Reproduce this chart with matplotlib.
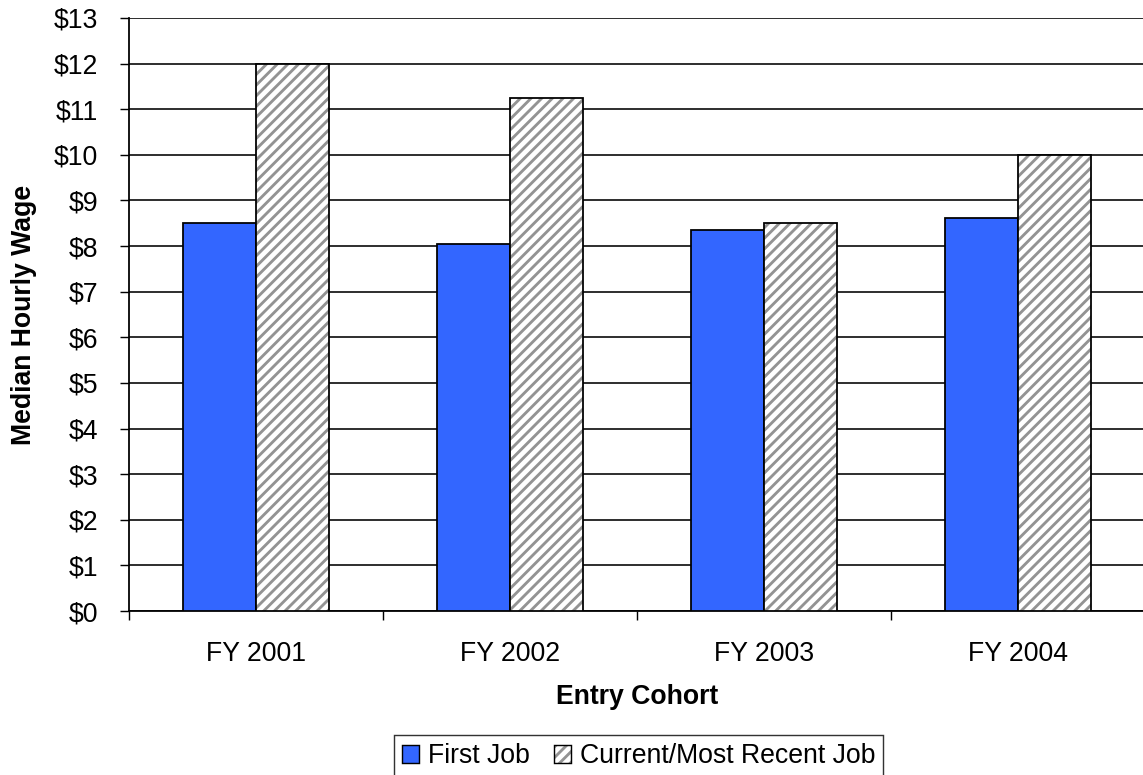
import matplotlib
matplotlib.use("Agg")
import matplotlib.pyplot as plt
from matplotlib.patches import Patch
from matplotlib.legend_handler import HandlerTuple
import numpy as np

cohorts = ["FY 2001", "FY 2002", "FY 2003", "FY 2004"]
first_job = [8.50, 8.05, 8.35, 8.62]
current_job = [12.00, 11.25, 8.50, 10.00]
y_ticks = list(range(0, 14))

plt.rcParams["font.family"] = ["Liberation Sans", "DejaVu Sans"]
plt.rcParams["hatch.linewidth"] = 1.6

DPI = 128
fig = plt.figure(figsize=(1143 / DPI, 775 / DPI), dpi=DPI)
ax = fig.add_axes([129 / 1143, 1 - 611 / 775, 1016 / 1143, 593 / 775])

x = np.arange(len(cohorts))
w = 0.287
blue = "#3366FF"
hatch_gray = "#939393"

ax.set_axisbelow(True)
ax.grid(axis="y", color="black", linewidth=0.9)

ax.bar(x - w / 2, first_job, w, color=blue, edgecolor="black", linewidth=1.0, zorder=3)
# hatched fill first, then a plain black outline on top
ax.bar(x + w / 2, current_job, w, color="white", edgecolor=hatch_gray, hatch="////",
       linewidth=0, zorder=3)
ax.bar(x + w / 2, current_job, w, fill=False, edgecolor="black", linewidth=1.0, zorder=4)

ax.set_xlim(-0.5, 3.5)
ax.set_ylim(0, 13)
ax.set_yticks(y_ticks)
ax.set_yticklabels([f"${v}" for v in y_ticks])
ax.set_xticks(x)
ax.set_xticklabels(cohorts)
ax.set_xticks(np.arange(-0.5, 4.0, 1.0), minor=True)

ax.tick_params(axis="y", direction="out", length=5, width=0.8, labelsize=15, pad=12.5)
ax.tick_params(axis="x", which="major", length=0, labelsize=15, pad=17)
ax.tick_params(axis="x", which="minor", direction="out", length=5, width=0.8)

for side in ["top", "right"]:
    ax.spines[side].set_visible(False)
for side in ["left", "bottom"]:
    ax.spines[side].set_linewidth(1.0)

ax.set_xlabel("Entry Cohort", fontsize=15, fontweight="bold")
ax.xaxis.set_label_coords(0.5, -0.145)
ax.xaxis.label.set_va("center")
ax.set_ylabel("Median Hourly Wage", fontsize=15, fontweight="bold")
ax.yaxis.set_label_coords(-0.1033, 0.5)
ax.yaxis.label.set_va("center")

h_first = Patch(facecolor=blue, edgecolor="black", linewidth=0.8)
h_cur_fill = Patch(facecolor="white", edgecolor=hatch_gray, hatch="////", linewidth=0)
h_cur_edge = Patch(fill=False, edgecolor="black", linewidth=0.8)
leg = fig.legend([h_first, (h_cur_fill, h_cur_edge)], ["First Job", "Current/Most Recent Job"],
                 handler_map={tuple: HandlerTuple(ndivide=1, pad=0)},
                 loc="center", bbox_to_anchor=(638.5 / 1143, 1 - 756 / 775),
                 ncol=2, fontsize=15, frameon=True, fancybox=False,
                 handlelength=0.65, handleheight=0.65, handletextpad=0.33,
                 columnspacing=0.9, borderpad=0.3, borderaxespad=0)
leg.get_frame().set_edgecolor("black")
leg.get_frame().set_linewidth(0.8)

fig.savefig("out.png", dpi=DPI)
